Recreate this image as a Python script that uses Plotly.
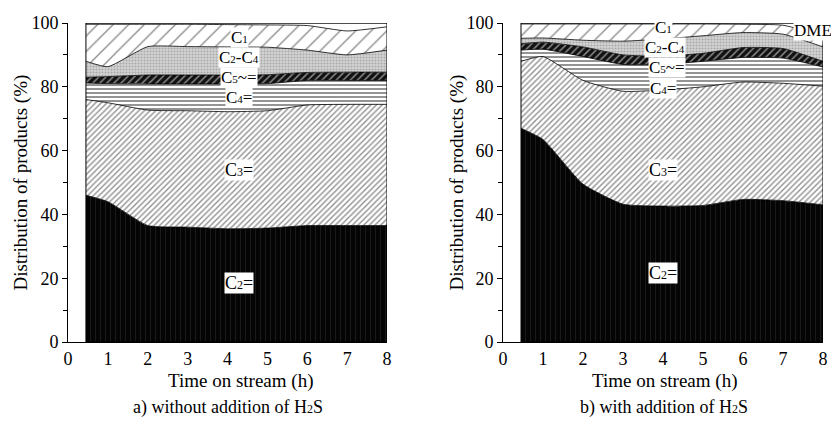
import plotly.graph_objects as go

# ---------------- data ----------------
time_h = [0.45, 1, 2, 3, 4, 5, 6, 7, 8]
components = ["C2=", "C3=", "C4=", "C5~=", "C2-C4", "C1", "DME"]

# a) without addition of H2S  (share of each product, %)
a_C2e = [46, 44, 36.5, 36, 35.5, 35.7, 36.5, 36.5, 36.5]
a_C3e = [30, 31, 36.2, 36.5, 36.7, 36.8, 37.8, 38, 38]
a_C4e = [5.2, 6, 8.2, 8.4, 8.7, 8.5, 7.7, 7.5, 7.5]
a_C5e = [1.8, 2.2, 2.8, 2.8, 2.8, 2.8, 2.5, 2.6, 2.6]
a_C2C4 = [5, 3.1, 8.9, 8.9, 8.8, 8.6, 7, 5.4, 6.9]
a_C1 = [11.6, 13.3, 7, 7, 7, 7, 7.7, 7.5, 7.3]
a_DME = [0.4, 0.4, 0.4, 0.4, 0.5, 0.6, 0.8, 2.5, 1.2]

# b) with addition of H2S
b_C2e = [67, 63.5, 49.5, 43.2, 42.6, 42.8, 44.7, 44.3, 43]
b_C3e = [21, 26, 32.5, 35.4, 36.4, 37.2, 36.8, 36.8, 37.2]
b_C4e = [3.5, 2.3, 7.5, 8.4, 8, 8, 7.7, 7.9, 6]
b_C5e = [2, 2.2, 3, 3, 2.6, 2.5, 3.1, 3, 1.8]
b_C2C4 = [1.7, 1.3, 2.1, 4.3, 5.4, 5.5, 4.7, 4.5, 4.5]
b_C1 = [4.5, 4.4, 5.1, 5.4, 4.7, 3.7, 2.6, 2.8, 3.5]
b_DME = [0.3, 0.3, 0.3, 0.3, 0.3, 0.3, 0.4, 0.7, 4]

x_ticks = [0, 1, 2, 3, 4, 5, 6, 7, 8]
y_ticks = [0, 20, 40, 60, 80, 100]

# ---------------- styling ----------------
FONT = "Liberation Serif"
OFF = 8                      # page body margin in the browser
W, H = 839 - OFF, 433 - OFF  # figure size so it fits the window


def px_x(p):
    return (p - OFF) / W


def px_y(p):
    return 1 - (p - OFF) / H


def s(d, size=12):
    # small index digit, kept on the baseline like the reference
    return f"<span style='font-size:{size}px'>{d}</span>"


patterns = {
    "C2=": dict(shape="|", bgcolor="#050505", fgcolor="#3c3c3c", size=5, solidity=0.15),
    "C3=": dict(shape="/", bgcolor="white", fgcolor="#222", size=4, solidity=0.35),
    "C4=": dict(shape="-", bgcolor="white", fgcolor="#111", size=4, solidity=0.45),
    "C5~=": dict(shape="/", bgcolor="#111", fgcolor="white", size=5, solidity=0.3),
    "C2-C4": dict(shape=".", bgcolor="#d4d4d4", fgcolor="#808080", size=3, solidity=0.4),
    "C1": dict(shape="/", bgcolor="white", fgcolor="#111", size=11, solidity=0.12),
    "DME": dict(shape="", bgcolor="white", fgcolor="white", size=4, solidity=0.1),
}

fig = go.Figure()

sets = [
    ("x", "y", "a", [a_C2e, a_C3e, a_C4e, a_C5e, a_C2C4, a_C1, a_DME]),
    ("x2", "y2", "b", [b_C2e, b_C3e, b_C4e, b_C5e, b_C2C4, b_C1, b_DME]),
]
for xa, ya, grp, series in sets:
    for name, vals in zip(components, series):
        fig.add_trace(go.Scatter(
            x=time_h, y=vals, name=name, xaxis=xa, yaxis=ya,
            stackgroup=grp, mode="lines",
            line=dict(color="black", width=0.8, shape="spline", smoothing=0.5),
            fillcolor=patterns[name]["bgcolor"],
            fillpattern=patterns[name],
            showlegend=False, hoverinfo="skip",
        ))

# frame around data region
for xa, ya in [("x", "y"), ("x2", "y2")]:
    fig.add_shape(type="rect", xref=xa, yref=ya, x0=time_h[0], x1=8, y0=0, y1=100,
                  line=dict(color="black", width=1), fillcolor="rgba(0,0,0,0)")

ydom = [px_y(342), px_y(23)]
axis_common = dict(range=[0, 8], tickvals=x_ticks, showline=True, linecolor="black",
                   linewidth=1, ticks="", showgrid=False, zeroline=False,
                   tickfont=dict(family=FONT, size=18, color="black"))
yaxis_common = dict(range=[0, 100], tickvals=y_ticks, showline=True, linecolor="black",
                    linewidth=1, ticks="outside", ticklen=5, tickcolor="black",
                    showgrid=False, zeroline=False, domain=ydom,
                    minor=dict(ticks="outside", ticklen=4, dtick=10, tickcolor="black"),
                    tickfont=dict(family=FONT, size=18, color="black"))

fig.update_layout(
    width=W, height=H, margin=dict(l=0, r=0, t=0, b=0, autoexpand=False),
    paper_bgcolor="white", plot_bgcolor="white",
    xaxis=dict(axis_common, domain=[px_x(68), px_x(387)], anchor="y"),
    xaxis2=dict(axis_common, domain=[px_x(503), px_x(823)], anchor="y2"),
    yaxis=dict(yaxis_common, anchor="x"),
    yaxis2=dict(yaxis_common, anchor="x2"),
)


def lab(text, x, y, xa, ya, size=18):
    fig.add_annotation(text=text, x=x, y=y, xref=xa, yref=ya, showarrow=False,
                       xanchor="center", yanchor="middle",
                       bgcolor="white", borderpad=0,
                       font=dict(family=FONT, size=size, color="black"))


# series labels, left chart
lab("C" + s(1, 11), 4.3, 95.5, "x", "y", size=17)
lab("C" + s(2, 11) + "-C" + s(4, 11), 4.3, 89.2, "x", "y", size=17)
lab("C" + s(5, 11) + "~=", 4.3, 82.9, "x", "y", size=17)
lab("C" + s(4, 11) + "=", 4.3, 76.5, "x", "y", size=17)
lab("C" + s(3) + "=", 4.3, 54.0, "x", "y")
lab("C" + s(2) + "=", 4.3, 18.5, "x", "y")
lab("DME", 8.05, 97.8, "x", "y")

# series labels, right chart
lab("C" + s(1, 11), 4.0, 98.5, "x2", "y2", size=17)
lab("C" + s(2, 11) + "-C" + s(4, 11), 4.05, 92.2, "x2", "y2", size=17)
lab("C" + s(5, 11) + "~=", 4.1, 85.9, "x2", "y2", size=17)
lab("C" + s(4, 11) + "=", 4.0, 79.5, "x2", "y2", size=17)
lab("C" + s(3) + "=", 4.0, 54.0, "x2", "y2")
lab("C" + s(2) + "=", 4.0, 21.6, "x2", "y2")
lab("DME", 7.75, 97.8, "x2", "y2", size=17)


def ptext(text, px, py, size=18, angle=0):
    fig.add_annotation(text=text, x=px_x(px), y=px_y(py), xref="paper", yref="paper",
                       showarrow=False, textangle=angle,
                       xanchor="center", yanchor="middle",
                       font=dict(family=FONT, size=size, color="black"))


ymid = (23 + 342) / 2
ptext("Distribution of products (%)", 20, ymid, size=19, angle=-90)
ptext("Distribution of products (%)", 456, ymid, size=19, angle=-90)
ptext("Time on stream (h)", 240, 381, size=19)
ptext("Time on stream (h)", 664, 381, size=19)
ptext("a) without addition of H" + s(2, 12) + "S", 228, 407, size=18)
ptext("b) with addition of H" + s(2, 12) + "S", 664, 407, size=18)

fig.write_html("out.html")
